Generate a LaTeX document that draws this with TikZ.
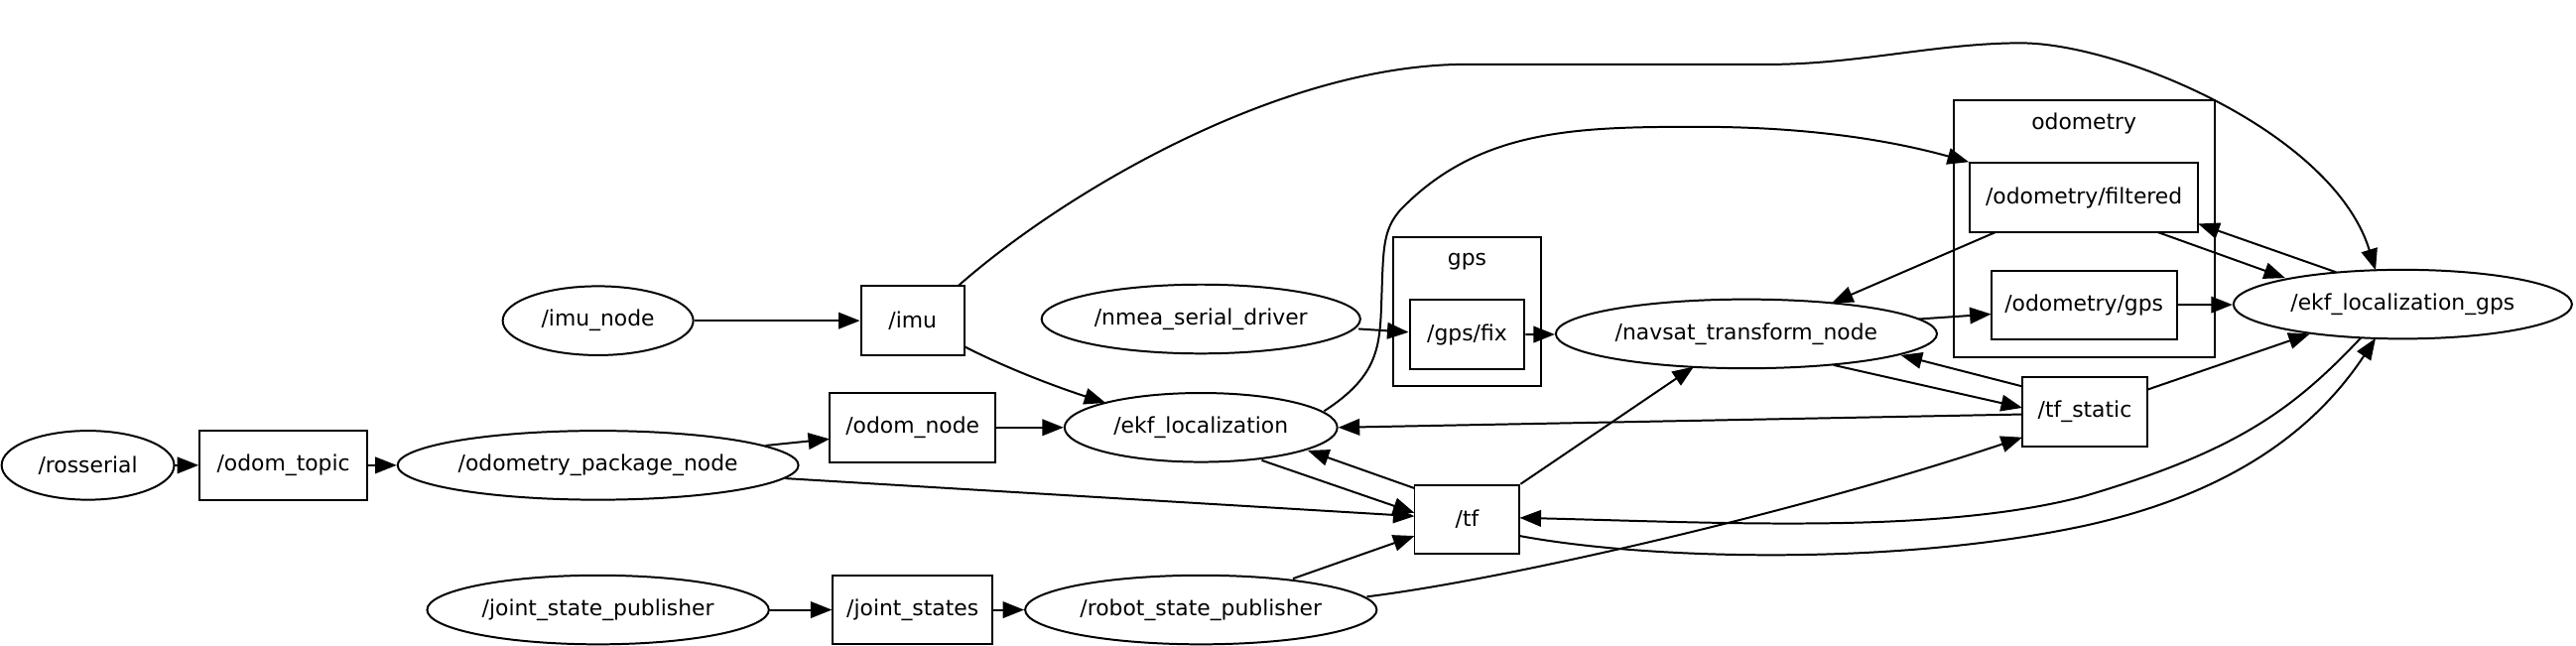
\documentclass[tikz,border=0pt]{standalone}
\usepackage{fontspec}
\setmainfont{DejaVu Sans}
\usetikzlibrary{arrows.meta,shapes.geometric,calc}
\begin{document}
\begin{tikzpicture}[x=1pt,y=1pt,
  txt/.style={font=\fontsize{13.2}{15}\selectfont},
  nd/.style={txt, draw, ellipse, line width=1.2pt, inner sep=0pt, minimum height=42pt},
  tp/.style={txt, draw, rectangle, line width=1.2pt, inner sep=0pt, minimum height=42pt},
  cl/.style={draw, rectangle, line width=1.2pt, inner sep=0pt},
  e/.style={draw, line width=1.2pt, -{Triangle[length=13pt,width=10pt]}},
]
\useasboundingbox (0,0) rectangle (1568,393.2);
% clusters
\node[cl, minimum width=90pt, minimum height=91pt] (gpscl) at (893,203.5) {};
\node[txt] (gpslbl) at (893,234) {gps};
\node[cl, minimum width=159pt, minimum height=156pt] (odomcl) at (1268.5,254) {};
\node[txt] (odomlbl) at (1268.5,318) {odometry};
% nodes
\node[nd, minimum width=105pt] (rosserial) at (53.5,110) {/rosserial};
\node[tp, minimum width=102pt] (odomtopic) at (172.5,110) {/odom\_topic};
\node[nd, minimum width=244pt] (opn) at (364,110) {/odometry\_package\_node};
\node[nd, minimum width=116pt] (imunode) at (364,198) {/imu\_node};
\node[nd, minimum width=208pt] (jsp) at (364,22) {/joint\_state\_publisher};
\node[tp, minimum width=63pt] (imu) at (555.5,198) {/imu};
\node[tp, minimum width=101pt] (odomnode) at (555.5,133) {/odom\_node};
\node[tp, minimum width=97pt] (jstates) at (555.5,22) {/joint\_states};
\node[nd, minimum width=194pt] (nmea) at (731,199) {/nmea\_serial\_driver};
\node[nd, minimum width=166pt] (ekf) at (731,133) {/ekf\_localization};
\node[nd, minimum width=214pt] (rsp) at (731,22) {/robot\_state\_publisher};
\node[tp, minimum width=70pt] (gpsfix) at (893,189.5) {/gps/fix};
\node[tp, minimum width=64pt] (tf) at (893,77) {/tf};
\node[nd, minimum width=232pt] (navsat) at (1063,190) {/navsat\_transform\_node};
\node[tp, minimum width=139pt] (odomfilt) at (1268.5,273) {/odometry/filtered};
\node[tp, minimum width=113pt] (odomgps) at (1268.5,207.5) {/odometry/gps};
\node[tp, minimum width=76pt] (tfstatic) at (1269,142.5) {/tf\_static};
\node[nd, minimum width=206pt] (ekfgps) at (1462.5,208) {/ekf\_localization\_gps};
% edges
\draw[e] (rosserial) -- (odomtopic);
\draw[e] (odomtopic) -- (opn);
\draw[e] ($(opn)+(102,12)$) -- ($(odomnode)+(-50.5,-7)$);
\draw[e] ($(opn)+(114,-8)$) -- ($(tf)+(-32,2)$);
\draw[e] (imunode) -- (imu);
\draw[e] ($(imu)+(32,-16)$) .. controls (615,168) and (645,157) .. ($(ekf)+(-58,15)$);
\draw[e] ($(imu)+(27.5,21)$) .. controls (650,278) and (780,353) .. (890,354)
   -- (1077,354) .. controls (1130,354) and (1180,367) .. (1230,367)
   .. controls (1290,367) and (1420,313) .. ($(ekfgps)+(-16.5,20.7)$);
\draw[e] (odomnode) -- (ekf);
\draw[e] (jsp) -- (jstates);
\draw[e] (jstates) -- (rsp);
\draw[e] ($(nmea)+(96,-6)$) -- ($(gpsfix.west)+(0,1.5)$);
\draw[e] (gpsfix) -- (navsat);
\draw[e] ($(ekf)+(75,10)$) .. controls (840,165) and (840,183) .. (841,213)
   .. controls (842,243) and (842,253) .. (852,265)
   .. controls (900,315) and (960,316) .. (1034,316)
   .. controls (1100,316) and (1150,308) .. (odomfilt.north west);
\draw[e] ($(ekf)+(37,-20)$) -- ($(tf)+(-32,4)$);
\draw[e] ($(tf)+(-32,19)$) -- ($(ekf)+(65,-14)$);
\draw[e] ($(rsp)+(56,19)$) -- ($(tf)+(-32,-10)$);
\draw[e] ($(rsp)+(101,8)$) .. controls (920,41) and (1100,83) .. ($(tfstatic)+(-38,-15.5)$);
\draw[e] (tf.north east) -- ($(navsat)+(-32,-20)$);
\draw[e] ($(ekfgps)+(-25.5,-20.5)$) .. controls (1395,143) and (1360,118) .. (1268,91)
   .. controls (1180,68) and (1050,75) .. ($(tf)+(32,1)$);
\draw[e] ($(tf)+(32,-10)$) .. controls (1000,53) and (1150,48) .. (1268,73)
   .. controls (1360,93) and (1410,133) .. ($(ekfgps)+(-16.5,-20.7)$);
\draw[e] ($(navsat)+(105,9)$) -- ($(odomgps)+(-56.5,-5.5)$);
\draw[e] ($(odomfilt)+(-53.5,-21)$) -- ($(navsat)+(52,18.8)$);
\draw[e] ($(odomfilt)+(44.5,-21)$) -- ($(ekfgps)+(-71.5,16)$);
\draw[e] ($(ekfgps)+(-40.5,19.5)$) -- ($(odomfilt)+(69.5,-16)$);
\draw[e] (odomgps) -- (ekfgps);
\draw[e] ($(navsat)+(53,-19)$) -- ($(tfstatic)+(-38,2.5)$);
\draw[e] ($(tfstatic)+(-38,15.5)$) -- ($(navsat)+(94,-13)$);
\draw[e] ($(tfstatic)+(-38,-1.5)$) -- (ekf.east);
\draw[e] ($(tfstatic)+(38,13.5)$) -- ($(ekfgps)+(-56.5,-18)$);
\end{tikzpicture}
\end{document}
